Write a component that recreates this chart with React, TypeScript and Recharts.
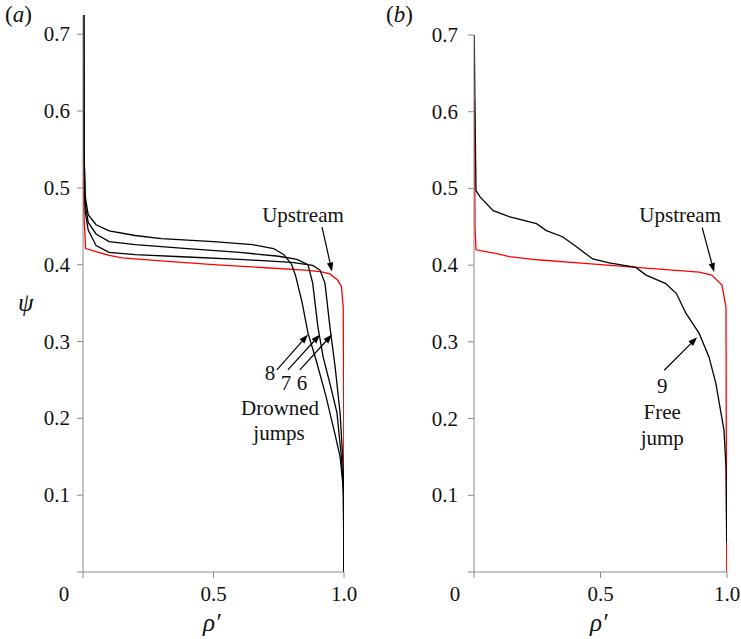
import { LineChart, Line, XAxis, YAxis, ReferenceLine, ReferenceDot } from 'recharts';

// Data: (rho', psi) profiles
const upstreamA = [
  { x: 0.001, y: 0.6 }, { x: 0.003, y: 0.47 }, { x: 0.01, y: 0.421 }, { x: 0.05, y: 0.417 },
  { x: 0.1, y: 0.412 }, { x: 0.15, y: 0.409 }, { x: 0.3, y: 0.405 }, { x: 0.5, y: 0.4 },
  { x: 0.7, y: 0.396 }, { x: 0.85, y: 0.393 }, { x: 0.91, y: 0.391 }, { x: 0.946, y: 0.388 },
  { x: 0.975, y: 0.38 }, { x: 0.99, y: 0.372 }, { x: 0.997, y: 0.345 }, { x: 0.999, y: 0.2 },
  { x: 1.0, y: 0 },
];

const jump8 = [
  { x: 0.003, y: 0.725 }, { x: 0.004, y: 0.55 }, { x: 0.008, y: 0.49 }, { x: 0.02, y: 0.465 },
  { x: 0.05, y: 0.452 }, { x: 0.1, y: 0.444 }, { x: 0.2, y: 0.438 }, { x: 0.3, y: 0.434 },
  { x: 0.5, y: 0.43 }, { x: 0.65, y: 0.426 }, { x: 0.73, y: 0.421 }, { x: 0.77, y: 0.413 },
  { x: 0.8, y: 0.4 }, { x: 0.815, y: 0.385 }, { x: 0.84, y: 0.35 }, { x: 0.862, y: 0.311 },
  { x: 0.893, y: 0.276 }, { x: 0.93, y: 0.23 }, { x: 0.965, y: 0.18 }, { x: 0.985, y: 0.15 },
  { x: 0.997, y: 0.11 }, { x: 1.0, y: 0 },
];

const jump7 = [
  { x: 0.003, y: 0.725 }, { x: 0.004, y: 0.55 }, { x: 0.008, y: 0.48 }, { x: 0.02, y: 0.455 },
  { x: 0.05, y: 0.44 }, { x: 0.1, y: 0.43 }, { x: 0.2, y: 0.426 }, { x: 0.4, y: 0.421 },
  { x: 0.6, y: 0.416 }, { x: 0.75, y: 0.411 }, { x: 0.82, y: 0.407 }, { x: 0.862, y: 0.4 },
  { x: 0.88, y: 0.376 }, { x: 0.9, y: 0.319 }, { x: 0.92, y: 0.28 }, { x: 0.95, y: 0.24 },
  { x: 0.973, y: 0.207 }, { x: 0.99, y: 0.15 }, { x: 0.998, y: 0.1 }, { x: 1.0, y: 0 },
];

const jump6 = [
  { x: 0.003, y: 0.725 }, { x: 0.004, y: 0.55 }, { x: 0.008, y: 0.47 }, { x: 0.02, y: 0.445 },
  { x: 0.05, y: 0.425 }, { x: 0.1, y: 0.416 }, { x: 0.2, y: 0.413 }, { x: 0.4, y: 0.41 },
  { x: 0.6, y: 0.407 }, { x: 0.8, y: 0.403 }, { x: 0.88, y: 0.399 }, { x: 0.908, y: 0.393 },
  { x: 0.927, y: 0.376 }, { x: 0.946, y: 0.319 }, { x: 0.966, y: 0.267 }, { x: 0.985, y: 0.207 },
  { x: 0.995, y: 0.15 }, { x: 1.0, y: 0.1 }, { x: 1.0, y: 0 },
];

const upstreamB = [
  { x: 0.002, y: 0.615 }, { x: 0.004, y: 0.45 }, { x: 0.008, y: 0.42 }, { x: 0.09, y: 0.415 },
  { x: 0.14, y: 0.411 }, { x: 0.25, y: 0.407 }, { x: 0.45, y: 0.402 }, { x: 0.64, y: 0.397 },
  { x: 0.89, y: 0.391 }, { x: 0.94, y: 0.387 }, { x: 0.98, y: 0.374 }, { x: 0.996, y: 0.345 },
  { x: 0.997, y: 0.2 }, { x: 0.999, y: 0 },
];

const jump9 = [
  { x: 0.001, y: 0.7 }, { x: 0.004, y: 0.6 }, { x: 0.008, y: 0.497 }, { x: 0.024, y: 0.489 },
  { x: 0.076, y: 0.471 }, { x: 0.142, y: 0.463 }, { x: 0.247, y: 0.454 }, { x: 0.286, y: 0.445 },
  { x: 0.35, y: 0.437 }, { x: 0.405, y: 0.424 }, { x: 0.469, y: 0.408 }, { x: 0.535, y: 0.403 },
  { x: 0.64, y: 0.397 }, { x: 0.68, y: 0.387 }, { x: 0.758, y: 0.376 }, { x: 0.8, y: 0.363 },
  { x: 0.838, y: 0.337 }, { x: 0.89, y: 0.311 }, { x: 0.929, y: 0.28 }, { x: 0.956, y: 0.246 },
  { x: 0.988, y: 0.185 }, { x: 0.996, y: 0.137 }, { x: 0.999, y: 0.038 },
];

const xTicks = [0, 0.5, 1];
const yTicks = [0, 0.1, 0.2, 0.3, 0.4, 0.5, 0.6, 0.7];

// annotations: arrows [x1, y1, x2, y2] and text [label, x, baseline y]
const arrowsA = [
  [0.916, 0.449, 0.954, 0.391],
  [0.743, 0.263, 0.862, 0.309],
  [0.785, 0.263, 0.908, 0.309],
  [0.831, 0.263, 0.954, 0.309],
];
const textsA: [string, number, number][] = [
  ['Upstream', 0.843, 0.456],
  ['8', 0.716, 0.25],
  ['7', 0.778, 0.237],
  ['6', 0.839, 0.237],
  ['Drowned', 0.755, 0.204],
  ['jumps', 0.751, 0.172],
];
const arrowsB = [
  [0.902, 0.449, 0.949, 0.391],
  [0.752, 0.263, 0.882, 0.306],
];
const textsB: [string, number, number][] = [
  ['Upstream', 0.815, 0.456],
  ['9', 0.744, 0.233],
  ['Free', 0.744, 0.2],
  ['jump', 0.744, 0.166],
];

const SERIF = 'Liberation Serif';
const AXIS = '#8a8a8a';
const FS = 21;

const ArrowShape = (p: any) => {
  const { x1, y1, x2, y2 } = p;
  if ([x1, y1, x2, y2].some((v) => v == null || isNaN(v))) return null;
  const a = Math.atan2(y2 - y1, x2 - x1);
  const len = 9;
  const w = 3.2;
  const bx = x2 - len * Math.cos(a);
  const by = y2 - len * Math.sin(a);
  const px = -Math.sin(a) * w;
  const py = Math.cos(a) * w;
  return (
    <g>
      <line x1={x1} y1={y1} x2={bx} y2={by} stroke="#000" strokeWidth={1.2} />
      <polygon points={`${x2},${y2} ${bx + px},${by + py} ${bx - px},${by - py}`} fill="#000" />
    </g>
  );
};

const TextShape = (label: string) => (p: any) => (
  <text x={p.cx} y={p.cy} textAnchor="middle" fontFamily={SERIF} fontSize={FS} fill="#111">
    {label}
  </text>
);

const XTick = (p: any) => {
  const { x, y, payload } = p;
  const v = payload.value;
  return (
    <text x={v === 0 ? x - 19 : x} y={y} dy={15} textAnchor="middle" fontFamily={SERIF} fontSize={FS} fill="#111">
      {v === 0 ? '0' : v.toFixed(1)}
    </text>
  );
};

const YTick = (p: any) => {
  const { x, y, payload } = p;
  const v = payload.value;
  if (v === 0) return null;
  return (
    <text x={x} y={y} dy={7} textAnchor="end" fontFamily={SERIF} fontSize={FS} fill="#111">
      {v.toFixed(1)}
    </text>
  );
};

interface PanelProps {
  series: { data: { x: number; y: number }[]; color: string; name: string }[];
  yMax: number;
  margin: { top: number; right: number; bottom: number; left: number };
  yTickMargin: number;
  arrows: number[][];
  texts: [string, number, number][];
}

const Panel = ({ series, yMax, margin, yTickMargin, arrows, texts }: PanelProps) => (
  <LineChart width={370} height={639} margin={margin} style={{ fontFamily: SERIF }}>
    <XAxis
      type="number"
      dataKey="x"
      domain={[0, 1]}
      ticks={xTicks}
      allowDataOverflow
      stroke={AXIS}
      tickLine={{ stroke: AXIS }}
      tickSize={6}
      tickMargin={8}
      height={30}
      tick={XTick}
    />
    <YAxis
      type="number"
      dataKey="y"
      domain={[0, yMax]}
      ticks={yTicks}
      allowDataOverflow
      stroke={AXIS}
      tickLine={{ stroke: AXIS }}
      tickSize={6}
      tickMargin={yTickMargin}
      width={60}
      tick={YTick}
    />
    {series.map((s) => (
      <Line
        key={s.name}
        data={s.data}
        dataKey="y"
        type="linear"
        stroke={s.color}
        strokeWidth={1.3}
        dot={false}
        isAnimationActive={false}
      />
    ))}
    {arrows.map((a, i) => (
      <ReferenceLine
        key={'ar' + i}
        segment={[{ x: a[0], y: a[1] }, { x: a[2], y: a[3] }]}
        shape={ArrowShape}
        ifOverflow="visible"
      />
    ))}
    {texts.map((t, i) => (
      <ReferenceDot key={'tx' + i} x={t[1]} y={t[2]} r={0} shape={TextShape(t[0])} ifOverflow="visible" />
    ))}
  </LineChart>
);

const labelStyle: React.CSSProperties = {
  position: 'absolute',
  fontFamily: SERIF,
  color: '#111',
  lineHeight: 1,
  whiteSpace: 'nowrap',
};

export default function App() {
  return (
    <div style={{ position: 'absolute', left: 0, top: 0, width: 741, height: 639, background: '#fff', fontFamily: SERIF }}>
      <div style={{ position: 'absolute', left: 0, top: 0 }}>
        <Panel
          series={[
            { data: upstreamA, color: '#ff0000', name: 'Upstream' },
            { data: jump8, color: '#000', name: '8' },
            { data: jump7, color: '#000', name: '7' },
            { data: jump6, color: '#000', name: '6' },
          ]}
          yMax={0.725}
          margin={{ top: 15, right: 26, bottom: 37, left: 23 }}
          yTickMargin={7}
          arrows={arrowsA}
          texts={textsA}
        />
      </div>
      <div style={{ position: 'absolute', left: 370, top: 0 }}>
        <Panel
          series={[
            { data: upstreamB, color: '#ff0000', name: 'Upstream' },
            { data: jump9, color: '#000', name: '9' },
          ]}
          yMax={0.7}
          margin={{ top: 35, right: 13, bottom: 37, left: 44 }}
          yTickMargin={10}
          arrows={arrowsB}
          texts={textsB}
        />
      </div>
      <div style={{ ...labelStyle, left: 5, top: 3, fontSize: 23 }}>
        (<i>a</i>)
      </div>
      <div style={{ ...labelStyle, left: 386, top: 3, fontSize: 23 }}>
        (<i>b</i>)
      </div>
      <div style={{ ...labelStyle, left: 18, top: 290, fontSize: 25, fontStyle: 'italic' }}>ψ</div>
      <div style={{ ...labelStyle, left: 203, top: 610, fontSize: 25, fontStyle: 'italic' }}>ρ′</div>
      <div style={{ ...labelStyle, left: 590, top: 610, fontSize: 25, fontStyle: 'italic' }}>ρ′</div>
    </div>
  );
}
